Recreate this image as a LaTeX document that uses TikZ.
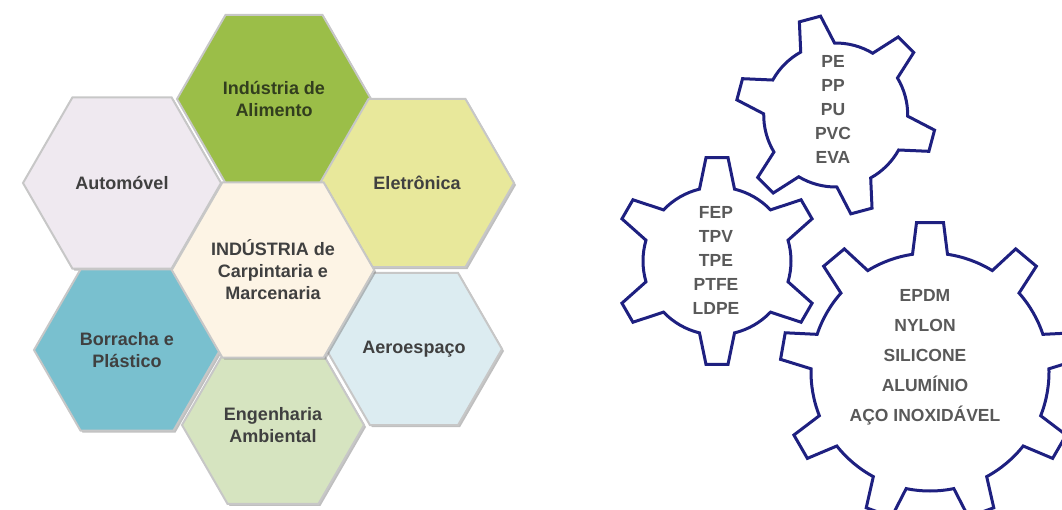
\documentclass[tikz,border=0pt]{standalone}
\usepackage{fontspec}
\setmainfont{Liberation Sans}
\usepackage{tikz}
\usetikzlibrary{positioning,shapes.geometric,shadows}
\definecolor{hexgreen}{RGB}{155,190,72}
\definecolor{hexlilac}{RGB}{239,233,240}
\definecolor{hexyellow}{RGB}{232,232,155}
\definecolor{hexcream}{RGB}{253,244,229}
\definecolor{hexteal}{RGB}{121,192,207}
\definecolor{hexsky}{RGB}{220,236,241}
\definecolor{hexmint}{RGB}{214,228,192}
\definecolor{gearblue}{RGB}{30,32,128}
\definecolor{hextext}{RGB}{64,64,64}
\definecolor{foodtext}{RGB}{50,62,30}
\definecolor{geartext}{RGB}{89,89,89}
\tikzset{
hexa/.style={
  regular polygon, regular polygon sides=6,
  draw=black!22, line width=2pt,
  drop shadow={shadow xshift=2pt,shadow yshift=-2pt,opacity=.5},
  inner sep=0pt, align=center, text=hextext,
  font=\fontsize{18}{22}\selectfont\bfseries
},
gearline/.style={draw=gearblue, line width=3pt},
geartxt/.style={align=center, text=geartext, inner sep=0pt,
  font=\fontsize{17.5}{24}\selectfont\bfseries},
}

\begin{document}
\begin{tikzpicture}[x=1pt,y=-1pt]
\useasboundingbox (0,0) rectangle (1062,509);
\begin{scope}
\clip (0,0) rectangle (1062,509);

% honeycomb
\node[hexa, fill=hexlilac, minimum size=198pt] (auto) at (122,183) {Automóvel};
\node[hexa, fill=hexteal, minimum size=186pt] (borracha) at (127,350) {Borracha e\\Plástico};
\node[hexa, fill=hexgreen, minimum size=194pt, text=foodtext] (alimento) at (274,99) {Indústria de\\Alimento};
\node[hexa, fill=hexyellow, minimum size=194pt] (eletro) at (417,183) {Eletrônica};
\node[hexa, fill=hexsky, minimum size=176pt] (aero) at (414,349) {Aeroespaço};
\node[hexa, fill=hexmint, minimum size=182pt] (amb) at (273,425) {Engenharia\\Ambiental};
\node[hexa, fill=hexcream, minimum size=188pt] (centro) at (273,270) {INDÚSTRIA de\\Carpintaria e\\Marcenaria};

% gears
\begin{scope}[shift={(835.7,115)}, yscale=-1]
\draw[gearline] (45-14.07:72)
  \foreach \k [evaluate=\k as \a using 45+60*\k] in {0,...,5} {
    -- ({\a-6.3}:100) -- ({\a+6.3}:100) -- ({\a+14.07}:72)
    arc[start angle=\a+14.07, end angle=\a+60-14.07, radius=72]
  } -- cycle;
\end{scope}
\begin{scope}[shift={(717,261)}, yscale=-1]
\draw[gearline] (30-13.7:74)
  \foreach \k [evaluate=\k as \a using 30+60*\k] in {0,...,5} {
    -- ({\a-6.07}:104) -- ({\a+6.07}:104) -- ({\a+13.7}:74)
    arc[start angle=\a+13.7, end angle=\a+60-13.7, radius=74]
  } -- cycle;
\end{scope}
\begin{scope}[shift={(930,372)}, yscale=-1]
\draw[gearline] (90-8.45:119)
  \foreach \k [evaluate=\k as \a using 90+40*\k] in {0,...,8} {
    -- ({\a-5.16}:150) -- ({\a+5.16}:150) -- ({\a+8.45}:119)
    arc[start angle=\a+8.45, end angle=\a+40-8.45, radius=119]
  } -- cycle;
\end{scope}

\node[geartxt] (polim) at (833,109) {PE\\PP\\PU\\PVC\\EVA};
\node[geartxt] (fluor) at (716,260) {FEP\\TPV\\TPE\\PTFE\\LDPE};
\node[geartxt, font=\fontsize{17.5}{30}\selectfont\bfseries] (metal) at (925,357) {EPDM\\NYLON\\SILICONE\\ALUMÍNIO\\AÇO INOXIDÁVEL};
\end{scope}
\end{tikzpicture}
\end{document}
